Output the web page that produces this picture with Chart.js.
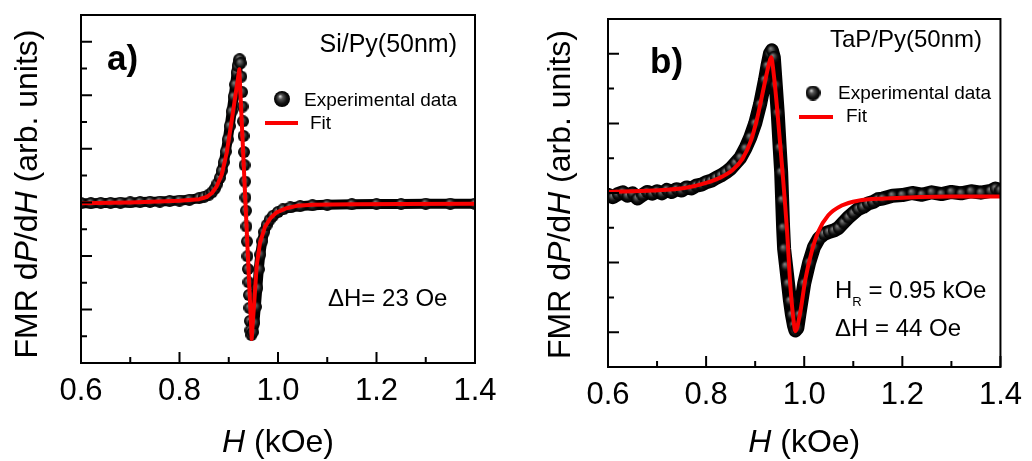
<!DOCTYPE html>
<html>
<head>
<meta charset="utf-8">
<script src="https://cdn.jsdelivr.net/npm/chart.js@4.4.1/dist/chart.umd.min.js"></script>
<style>
  html, body { margin: 0; padding: 0; background: #fff; }
  #wrap { position: relative; width: 1032px; height: 461px; overflow: hidden; background: #fff; }
  canvas { position: absolute; top: 0; }
  #chartA { left: 0; }
  #chartB { left: 516px; }
</style>
</head>
<body>
<div id="wrap">
  <canvas id="chartA" width="516" height="461"></canvas>
  <canvas id="chartB" width="516" height="461"></canvas>
</div>
<script>
// ---- panel a) Si/Py(50nm) ----
const fieldA = [0.600, 0.620, 0.640, 0.660, 0.680, 0.700, 0.720, 0.740, 0.760, 0.780,
  0.800, 0.820, 0.840, 0.850, 0.860, 0.866, 0.872, 0.877, 0.882, 0.886,
  0.890, 0.894, 0.898, 0.902, 0.906, 0.910, 0.913, 0.916, 0.918, 0.920,
  0.922, 0.924, 0.9255, 0.927, 0.928, 0.929, 0.930, 0.931, 0.932, 0.933,
  0.934, 0.935, 0.936, 0.937, 0.938, 0.939, 0.940, 0.941, 0.942, 0.943,
  0.944, 0.946, 0.949, 0.952, 0.955, 0.958, 0.961, 0.964, 0.968, 0.972,
  0.977, 0.983, 0.990, 1.000, 1.010, 1.025, 1.045, 1.070, 1.100, 1.150,
  1.200, 1.250, 1.300, 1.350, 1.400];
const dataA = [5.97, 5.97, 5.98, 5.98, 5.99, 6.00, 6.01, 6.02, 6.03, 6.05,
  6.07, 6.10, 6.16, 6.21, 6.29, 6.38, 6.52, 6.70, 6.92, 7.18,
  7.50, 7.90, 8.35, 8.85, 9.40, 9.95, 10.40, 10.85, 11.10, 11.30,
  11.35, 11.20, 10.70, 10.12, 9.58, 9.03, 8.48, 7.88, 7.39, 6.78,
  6.18, 5.69, 5.10, 4.54, 3.99, 3.51, 3.02, 2.54, 2.06, 1.57,
  1.22, 1.05, 1.15, 1.50, 2.10, 2.80, 3.50, 4.05, 4.55, 4.90,
  5.15, 5.35, 5.50, 5.64, 5.74, 5.81, 5.86, 5.89, 5.91, 5.93,
  5.94, 5.94, 5.95, 5.95, 5.95];
const fitFieldA = [0.600, 0.700, 0.800, 0.840, 0.855, 0.866, 0.8755, 0.8857, 0.8958, 0.906,
  0.916, 0.9215, 0.9466, 0.9515, 0.9567, 0.9636, 0.9736, 0.985, 0.9973, 1.015,
  1.038, 1.070, 1.150, 1.250, 1.400];
const fitA = [5.97, 6.00, 6.06, 6.12, 6.20, 6.35, 6.60, 7.03, 7.85, 9.05,
  10.30, 10.97, 0.90, 2.20, 3.63, 4.50, 5.09, 5.42, 5.63, 5.77,
  5.87, 5.91, 5.93, 5.94, 5.95];

// ---- panel b) TaP/Py(50nm) ----
const fieldB = [0.600, 0.610, 0.620, 0.630, 0.640, 0.650, 0.660, 0.670, 0.680, 0.690,
  0.700, 0.710, 0.720, 0.730, 0.740, 0.750, 0.760, 0.770, 0.780, 0.790,
  0.800, 0.810, 0.820, 0.830, 0.840, 0.850, 0.860, 0.870, 0.880, 0.890,
  0.900, 0.910, 0.920, 0.925, 0.930, 0.934, 0.938, 0.942, 0.946, 0.950,
  0.953, 0.955, 0.957, 0.959, 0.963, 0.967, 0.971, 0.975, 0.979, 0.982,
  0.986, 0.990, 1.000, 1.010, 1.020, 1.030, 1.040, 1.050, 1.060, 1.070,
  1.080, 1.090, 1.100, 1.110, 1.120, 1.130, 1.140, 1.150, 1.160, 1.180,
  1.200, 1.220, 1.240, 1.260, 1.280, 1.300, 1.320, 1.340, 1.360, 1.380,
  1.390, 1.400];
const dataB = [4.95, 4.88, 4.97, 5.02, 4.92, 4.99, 4.84, 4.94, 5.03, 4.98,
  5.05, 4.99, 5.09, 5.03, 5.11, 5.07, 5.16, 5.13, 5.21, 5.24,
  5.31, 5.35, 5.43, 5.50, 5.59, 5.70, 5.86, 6.02, 6.28, 6.60,
  7.00, 7.55, 8.25, 8.65, 9.00, 9.10, 8.90, 8.10, 7.30, 6.30,
  5.60, 4.80, 4.00, 3.40, 2.90, 2.40, 1.90, 1.50, 1.20, 1.05,
  1.12, 1.50, 2.40, 3.00, 3.45, 3.70, 3.82, 3.88, 3.92, 4.00,
  4.15, 4.30, 4.42, 4.54, 4.60, 4.70, 4.74, 4.82, 4.84, 4.92,
  4.94, 5.00, 4.95, 5.02, 4.97, 5.03, 4.99, 5.05, 5.01, 5.06,
  5.13, 5.08];
const fitFieldB = [0.600, 0.692, 0.759, 0.800, 0.827, 0.854, 0.874, 0.891, 0.904, 0.918,
  0.928, 0.9326, 0.938, 0.9448, 0.9549, 0.965, 0.9718, 0.9785, 0.982, 0.992,
  1.0022, 1.0157, 1.029, 1.049, 1.0763, 1.110, 1.164, 1.299, 1.400];
const fitB = [5.03, 5.07, 5.15, 5.29, 5.43, 5.66, 5.98, 6.49, 7.14, 8.06,
  8.71, 8.90, 8.40, 7.42, 5.75, 3.90, 2.32, 1.31, 1.03, 1.58,
  2.51, 3.34, 3.90, 4.36, 4.64, 4.78, 4.84, 4.90, 4.90];

// axis ticks (no y labels in the original)
const xMajor = [0.6, 0.8, 1.0, 1.2, 1.4];
const xMinor = [0.7, 0.9, 1.1, 1.3];
const yMajorA = [2, 4, 6, 8, 10, 12];
const yMinorA = [1, 3, 5, 7, 9, 11];
const yMajorB = [1, 3, 5, 7, 9];
const yMinorB = [2, 4, 6, 8];

const FONT = "'Liberation Sans', Arial, Helvetica, sans-serif";
const RED = 'rgb(250,0,0)';

function makeSphere(d, hi) {
  const c = document.createElement('canvas');
  c.width = d; c.height = d;
  const g = c.getContext('2d');
  const r = d / 2;
  const grad = g.createRadialGradient(r * 0.75, r * 0.65, 0, r, r, r);
  grad.addColorStop(0, hi);
  grad.addColorStop(0.3, '#555');
  grad.addColorStop(0.7, '#111');
  grad.addColorStop(1, '#000');
  g.fillStyle = grad;
  g.beginPath();
  g.arc(r, r, r, 0, Math.PI * 2);
  g.fill();
  return c;
}

function toPoints(xs, ys) {
  return xs.map((x, i) => ({ x: x, y: ys[i] }));
}

// draws a line of text made of pieces with their own font
function drawRich(ctx, parts, x, y, align) {
  let w = 0;
  parts.forEach(p => { ctx.font = p.font; p.w = ctx.measureText(p.text).width; w += p.w; });
  let cx = align === 'right' ? x - w : align === 'center' ? x - w / 2 : x;
  parts.forEach(p => {
    ctx.font = p.font;
    ctx.fillText(p.text, cx, y + (p.dy || 0));
    cx += p.w;
  });
}

const panelPlugin = {
  id: 'panel',
  afterDraw(chart, args, o) {
    const { ctx, chartArea: a, scales: { x, y } } = chart;
    ctx.save();
    ctx.strokeStyle = '#000';
    ctx.lineWidth = 2;
    ctx.beginPath();
    o.xMajor.forEach(v => { const p = x.getPixelForValue(v); ctx.moveTo(p, a.bottom); ctx.lineTo(p, a.bottom - 11); });
    o.xMinor.forEach(v => { const p = x.getPixelForValue(v); ctx.moveTo(p, a.bottom); ctx.lineTo(p, a.bottom - 6); });
    o.yMajor.forEach(v => { const p = y.getPixelForValue(v); ctx.moveTo(a.left, p); ctx.lineTo(a.left + 11, p); });
    o.yMinor.forEach(v => { const p = y.getPixelForValue(v); ctx.moveTo(a.left, p); ctx.lineTo(a.left + 6, p); });
    ctx.stroke();
    ctx.strokeRect(a.left, a.top, a.right - a.left, a.bottom - a.top);

    ctx.fillStyle = '#000';
    ctx.textBaseline = 'alphabetic';
    ctx.textAlign = 'left';

    // axis titles
    const reg = '32px ' + FONT, ita = 'italic 32px ' + FONT;
    drawRich(ctx, [{ text: 'H', font: ita }, { text: ' (kOe)', font: reg }], (a.left + a.right) / 2, o.xTitleY, 'center');
    ctx.save();
    ctx.translate(o.yTitleX, o.yTitleY);
    ctx.rotate(-Math.PI / 2);
    drawRich(ctx, [
      { text: 'FMR d', font: reg }, { text: 'P', font: ita }, { text: '/d', font: reg },
      { text: 'H', font: ita }, { text: ' (arb. units)', font: reg }
    ], 0, 0, 'center');
    ctx.restore();

    // annotations
    o.texts.forEach(t => drawRich(ctx, t.parts, t.x, t.y, t.align));

    // legend
    const L = o.legend;
    ctx.drawImage(L.sphere, L.sx - L.sphere.width / 2, L.sy - L.sphere.height / 2);
    ctx.strokeStyle = RED;
    ctx.lineWidth = 4;
    ctx.beginPath();
    ctx.moveTo(L.lx0, L.ly);
    ctx.lineTo(L.lx1, L.ly);
    ctx.stroke();
    ctx.font = '19px ' + FONT;
    ctx.fillText(chart.data.datasets[1].label, L.tx, L.ty);
    ctx.fillText(chart.data.datasets[0].label, L.fx, L.fy);
    ctx.restore();
  }
};

function makePanel(id, cfg) {
  return new Chart(document.getElementById(id), {
    type: 'scatter',
    data: {
      datasets: [
        {
          label: 'Fit',
          data: toPoints(cfg.fitX, cfg.fitY),
          showLine: true,
          borderColor: RED,
          borderWidth: 4,
          pointRadius: 0,
          tension: 0,
          cubicInterpolationMode: cfg.fitMode,
          borderJoinStyle: 'round'
        },
        {
          label: 'Experimental data',
          data: toPoints(cfg.dataX, cfg.dataY),
          showLine: true,
          borderColor: '#000',
          borderWidth: cfg.band,
          borderJoinStyle: 'round',
          borderCapStyle: 'round',
          pointStyle: makeSphere(cfg.dot, '#8a8a8a'),
          pointRadius: 5,
          tension: 0,
          segment: cfg.segment
        }
      ]
    },
    options: {
      responsive: false,
      animation: false,
      devicePixelRatio: 1,
      events: [],
      layout: { padding: { left: 0, top: cfg.top, right: cfg.right, bottom: 0 } },
      plugins: {
        legend: { display: false },
        tooltip: { enabled: false },
        panel: cfg.panel
      },
      scales: {
        x: {
          type: 'linear', min: 0.6, max: 1.4,
          grid: { display: false, drawTicks: false },
          border: { display: false },
          ticks: {
            stepSize: 0.2, padding: 10, color: '#000', maxRotation: 0, autoSkip: false,
            font: { family: FONT, size: 31 },
            callback: v => v.toFixed(1)
          },
          afterFit: s => { s.height = cfg.xHeight; }
        },
        y: {
          type: 'linear', min: 0, max: cfg.yMax,
          grid: { display: false, drawTicks: false },
          border: { display: false },
          ticks: { display: false },
          afterFit: s => { s.width = cfg.yWidth; }
        }
      }
    },
    plugins: [panelPlugin]
  });
}

const f = (size, style) => (style ? style + ' ' : '') + size + 'px ' + FONT;

makePanel('chartA', {
  dataX: fieldA, dataY: dataA, fitX: fitFieldA, fitY: fitA, fitMode: 'default',
  band: 10, dot: 12, yMax: 13, top: 6, right: 41, xHeight: 98, yWidth: 81,
  segment: {
    borderColor: c => ((c.p1.parsed.y - c.p0.parsed.y) / (c.p1.parsed.x - c.p0.parsed.x) < -300 ? 'rgba(0,0,0,0)' : '#000')
  },
  panel: {
    xMajor: xMajor, xMinor: xMinor, yMajor: yMajorA, yMinor: yMinorA,
    xTitleY: 452, yTitleX: 37, yTitleY: 194,
    texts: [
      { parts: [{ text: 'a)', font: f(35, 'bold') }], x: 107, y: 70, align: 'left' },
      { parts: [{ text: 'Si/Py(50nm)', font: f(25) }], x: 457, y: 52, align: 'right' },
      { parts: [{ text: '\u0394H= 23 Oe', font: f(24) }], x: 328, y: 306, align: 'left' }
    ],
    legend: { sphere: makeSphere(16, '#e8e8e8'), sx: 282, sy: 99, lx0: 265, lx1: 298, ly: 123, tx: 304, ty: 106, fx: 310, fy: 129 }
  }
});

makePanel('chartB', {
  dataX: fieldB, dataY: dataB, fitX: fitFieldB, fitY: fitB, fitMode: 'monotone',
  band: 14, dot: 12, yMax: 10, top: 7, right: 29, xHeight: 94, yWidth: 92,
  segment: {},
  panel: {
    xMajor: xMajor, xMinor: xMinor, yMajor: yMajorB, yMinor: yMinorB,
    xTitleY: 452, yTitleX: 54, yTitleY: 194.5,
    texts: [
      { parts: [{ text: 'b)', font: f(35, 'bold') }], x: 134, y: 73, align: 'left' },
      { parts: [{ text: 'TaP/Py(50nm)', font: f(24) }], x: 466, y: 47, align: 'right' },
      { parts: [{ text: 'H', font: f(24) }, { text: 'R', font: f(13), dy: 8 }, { text: ' = 0.95 kOe', font: f(24) }], x: 319, y: 298, align: 'left' },
      { parts: [{ text: '\u0394H = 44 Oe', font: f(24) }], x: 319, y: 336, align: 'left' }
    ],
    legend: { sphere: makeSphere(15, '#e8e8e8'), sx: 297, sy: 93, lx0: 283, lx1: 317, ly: 117, tx: 322, ty: 99, fx: 330, fy: 122 }
  }
});
</script>
</body>
</html>
